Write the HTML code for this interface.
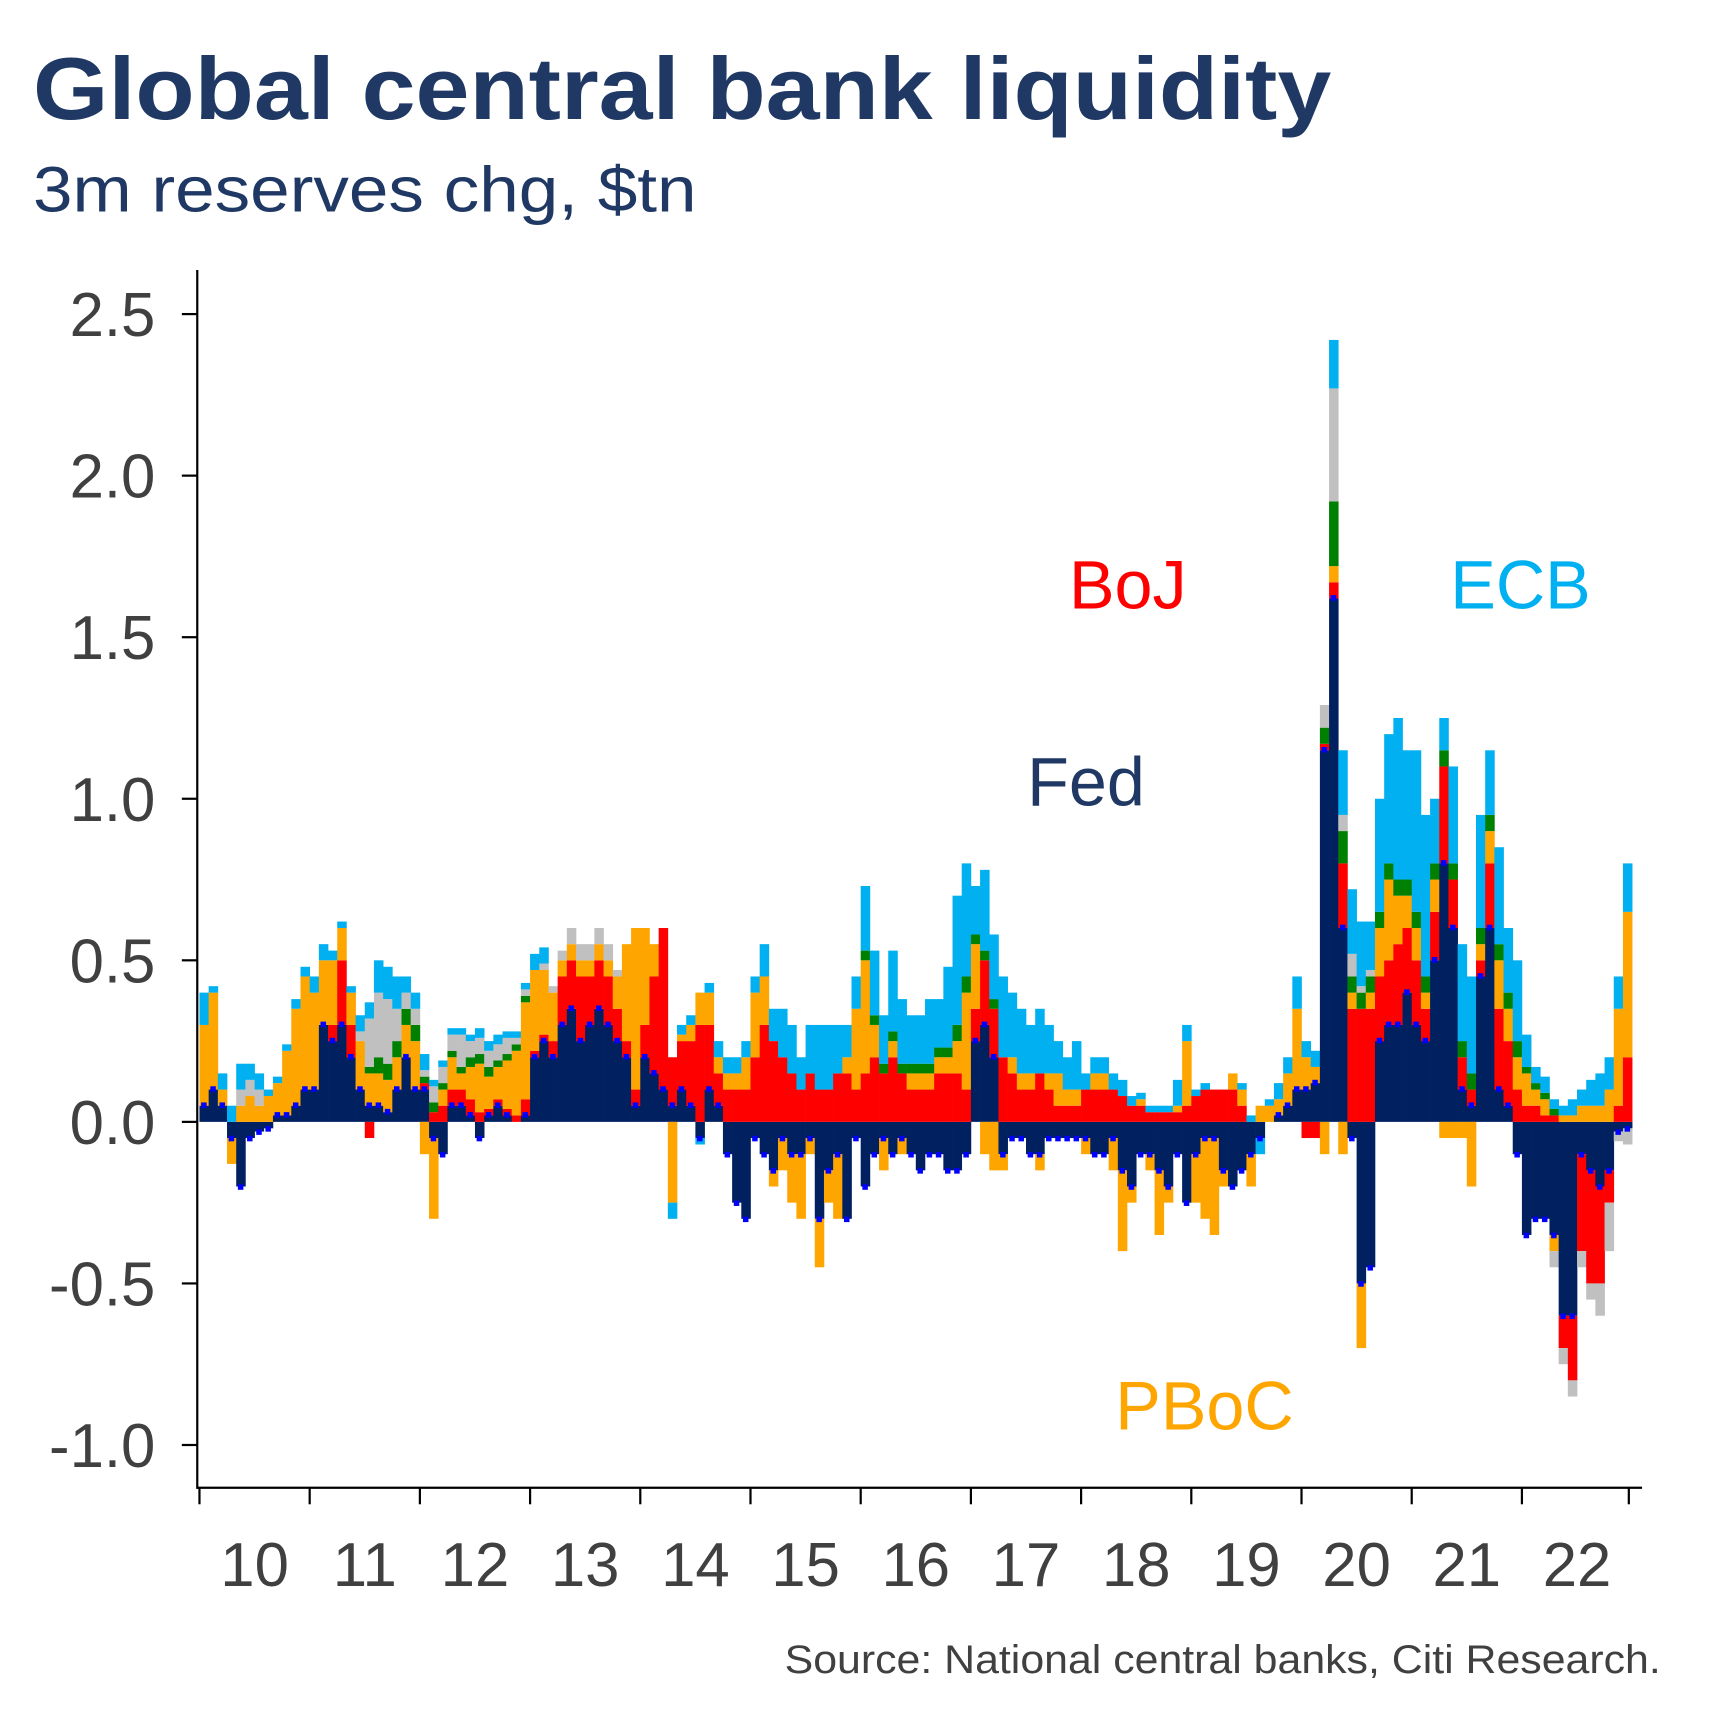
<!DOCTYPE html>
<html><head><meta charset="utf-8"><style>
html,body{margin:0;padding:0;background:#fff;}
svg{display:block;font-family:"Liberation Sans",Arial,sans-serif;}
</style></head><body>
<svg id="chart" width="1728" height="1728" viewBox="0 0 1568 1568" xmlns="http://www.w3.org/2000/svg">
<text x="30" y="108" font-size="80" font-weight="bold" fill="#1f3864" textLength="1178" lengthAdjust="spacingAndGlyphs">Global central bank liquidity</text>
<text x="30" y="192" font-size="58" fill="#1f3864" textLength="602" lengthAdjust="spacingAndGlyphs">3m reserves chg, $tn</text>
<g id="bars"></g>
<g id="axes"></g>
<text x="970" y="552" font-size="62" fill="#ff0000">BoJ</text>
<text x="1316" y="552" font-size="62" fill="#00b0f0">ECB</text>
<text x="932" y="731" font-size="62" fill="#1f3864">Fed</text>
<text x="1012" y="1297" font-size="62" fill="#ffa500">PBoC</text>
<text x="1507" y="1518" font-size="36" fill="#404040" text-anchor="end" textLength="795" lengthAdjust="spacingAndGlyphs">Source: National central banks, Citi Research.</text>
</svg>
<script>
const years=["10","11","12","13","14","15","16","17","18","19","20","21","22"];
const yTicks=[-1.0,-0.5,0.0,0.5,1.0,1.5,2.0,2.5];
const fed=[0.05,0.1,0.05,-0.05,-0.2,-0.05,-0.03,-0.02,0.02,0.02,0.05,0.1,
0.1,0.3,0.25,0.3,0.2,0.1,0.05,0.05,0.03,0.1,0.2,0.1,
0.1,-0.05,-0.1,0.05,0.05,0.02,-0.05,0.02,0.05,0.02,0,0.02,
0.2,0.25,0.2,0.3,0.35,0.25,0.3,0.35,0.3,0.25,0.2,0.05,
0.2,0.15,0.1,0.05,0.1,0.05,-0.05,0.1,0.05,-0.1,-0.25,-0.3,
-0.05,-0.1,-0.15,-0.05,-0.1,-0.1,-0.05,-0.3,-0.15,-0.1,-0.3,-0.05,
-0.2,-0.1,-0.05,-0.1,-0.05,-0.1,-0.15,-0.1,-0.1,-0.15,-0.15,-0.1,
0.25,0.3,0.2,-0.1,-0.05,-0.05,-0.1,-0.1,-0.05,-0.05,-0.05,-0.05,
-0.05,-0.1,-0.1,-0.05,-0.15,-0.2,-0.1,-0.1,-0.15,-0.2,-0.1,-0.25,
-0.1,-0.05,-0.05,-0.15,-0.2,-0.15,-0.1,-0.05,0,0.02,0.05,0.1,
0.1,0.12,1.15,1.62,0.6,-0.05,-0.5,-0.45,0.25,0.3,0.3,0.4,
0.3,0.25,0.5,0.8,0.6,0.1,0.05,0.45,0.6,0.1,0.05,-0.1,
-0.35,-0.3,-0.3,-0.35,-0.6,-0.6,-0.1,-0.15,-0.2,-0.15,-0.03,-0.02];
const boj=[0,0,0,0,0,0,0,0,0,0,0,0,
0,0,0.05,0.2,0.1,0,-0.05,0,0,0,0,0,
0.02,0.03,0.05,0.05,0.05,0.05,0.03,0.02,0.02,0.02,0.02,0.05,
0.02,0.02,0.05,0.15,0.15,0.2,0.15,0.15,0.15,0.1,0.05,0.05,
0.1,0.3,0.5,0.15,0.15,0.2,0.3,0.2,0.1,0.1,0.1,0.1,
0.2,0.3,0.25,0.2,0.15,0.1,0.15,0.1,0.1,0.15,0.15,0.1,
0.15,0.2,0.15,0.2,0.15,0.1,0.1,0.1,0.15,0.15,0.15,0.1,
0.1,0.2,0.15,0.2,0.15,0.1,0.1,0.15,0.1,0.05,0.05,0.05,
0.1,0.1,0.1,0.1,0.08,0.05,0.05,0.03,0.03,0.03,0.03,0.05,
0.08,0.1,0.1,0.1,0.1,0.05,0,0,0,0,0,0,
-0.05,-0.05,0.02,0.05,0.2,0.35,0.35,0.35,0.2,0.2,0.25,0.2,
0.2,0.1,0.15,0.3,0.15,0.1,0.05,0.05,0.2,0.25,0.2,0.1,
0.05,0.05,0.02,0.02,-0.1,-0.2,-0.3,-0.35,-0.3,-0.1,0.05,0.2];
const pboc=[0.25,0.3,0.05,-0.08,0.05,0.08,0.05,0.08,0.1,0.2,0.3,0.35,
0.3,0.2,0.2,0.1,0.1,0.15,0.1,0.1,0.1,0.1,0.1,0.15,
-0.1,-0.25,0.05,0.1,0.05,0.1,0.15,0.1,0.1,0.15,0.2,0.3,
0.25,0.2,0.15,0.05,0.05,0.05,0.05,0.05,0.05,0.1,0.3,0.5,
0.3,0.1,0,-0.25,0.02,0.05,0.1,0.1,0.05,0.05,0.05,0.1,
0.2,0.15,-0.05,-0.1,-0.15,-0.2,-0.05,-0.15,-0.1,-0.2,0.05,0.25,
0.35,0.1,-0.1,0.05,-0.05,0.05,0.05,0.05,0.05,0.05,0.1,0.3,
0.2,-0.1,-0.15,-0.05,0.05,0.05,0.05,-0.05,0.05,0.1,0.05,0.05,
-0.05,0.05,0.05,-0.1,-0.25,-0.05,0.02,-0.05,-0.2,-0.05,0.02,0.2,
-0.15,-0.25,-0.3,-0.05,0.05,0.05,-0.1,0.05,0.05,0.05,0.1,0.25,
0.1,0.05,-0.1,0.05,-0.1,0.05,-0.2,0.05,0.15,0.25,0.15,0.1,
0.1,0.05,0.1,-0.05,-0.05,-0.05,-0.2,0.05,0.1,0.15,0.1,0.1,
0.1,0.05,0.05,-0.05,0.02,0.02,0.05,0.05,0.05,0.1,0.3,0.45];
const other=[0,0,0,0,0,0,0,0,0,0,0,0,
0,0,0,0,0,0,0.02,0.05,0.05,0.05,0.05,0.05,
0.02,0.03,0.02,0.02,0.02,0.03,0.03,0.03,0.02,0.02,0.02,0.02,
0,0,0,0,0,0,0,0,0,0,0,0,
0,0,0,0,0,0,0,0,0,0,0,0,
0,0,0,0,0,0,0,0,0,0,0,0,
0.03,0.03,0.03,0.03,0.03,0.03,0.03,0.03,0.03,0.03,0.05,0.05,
0.03,0.03,0.03,0,0,0,0,0,0,0,0,0,
0,0,0,0,0,0,0,0,0,0,0,0,
0,0,0,0,0,0,0,0,0,0,0,0,
0,0,0.05,0.2,0.1,0.05,0.05,0.05,0.05,0.05,0.05,0.05,
0.05,0.05,0.05,0.05,0.05,0.05,0.05,0.05,0.05,0.05,0.05,0.05,
0.02,0.02,0.02,0.02,0,0,0,0,0,0,0,0];
const grey=[0,0,0,0,0.05,0.05,0.05,0,0,0,0,0,
0,0,0,0,0,0.03,0.15,0.2,0.2,0.1,0.05,0.05,
0.02,0.05,0.05,0.05,0.1,0.05,0.05,0.05,0.05,0.05,0.02,0.02,
0,0.02,0.02,0.03,0.05,0.05,0.05,0.05,0.05,0.02,0,0,
0,0,0,0,0,0,0,0,0,0,0,0,
0,0,0,0,0,0,0,0,0,0,0,0,
0,0,0,0,0,0,0,0,0,0,0,0,
0,0,0,0,0,0,0,0,0,0,0,0,
0,0,0,0,0,0,0,0,0,0,0,0,
0,0,0,0,0,0,0,0,0,0,0,0,
0,0,0.07,0.35,0.05,0.07,0.02,0.02,0,0,0,0,
0,0,0,0,0,0,0,0,0,0,0,0,
0,0,0,-0.05,-0.05,-0.05,-0.05,-0.05,-0.1,-0.15,-0.03,-0.05];
const ecb=[0.1,0.02,0.05,0.05,0.08,0.05,0.05,0.02,0.02,0.02,0.03,0.03,
0.05,0.05,0.03,0.02,0.02,0.05,0.05,0.1,0.1,0.1,0.05,0.05,
0.05,0.02,0.02,0.02,0.02,0.02,0.03,0.03,0.03,0.02,0.02,0.02,
0.05,0.05,0,0,0,0,0,0,0,0,0,0,
0,0,0,-0.05,0.03,0.03,-0.02,0.03,0.05,0.05,0.05,0.05,
0.05,0.1,0.1,0.15,0.15,0.1,0.15,0.2,0.2,0.15,0.1,0.1,
0.2,0.2,0.15,0.25,0.2,0.15,0.15,0.2,0.15,0.25,0.4,0.35,
0.15,0.25,0.2,0.25,0.2,0.2,0.15,0.2,0.15,0.1,0.1,0.15,
0.05,0.05,0.05,0.05,0.05,0.03,0.02,0.02,0.02,0.02,0.08,0.05,
0.02,0.02,0,0,0,0.02,0.02,-0.05,0.02,0.05,0.05,0.1,
0.05,0.05,0,0.15,0.2,0.2,0.2,0.15,0.35,0.4,0.5,0.4,
0.5,0.5,0.2,0.1,0.3,0.3,0.3,0.35,0.2,0.3,0.2,0.25,
0.1,0.05,0.05,0.03,0.03,0.05,0.05,0.08,0.1,0.1,0.1,0.15];

const X0=181, YW=100, Y0=1018, PPU=293.2;
const ns="http://www.w3.org/2000/svg";
function xS(i){return X0+i*YW/12;}
function yS(v){return Y0-v*PPU;}
const bars=document.getElementById('bars');
const series=[[fed,'#002060','fed'],[boj,'#ff0000','boj'],[pboc,'#ffa500','pboc'],[other,'#008000','other'],[grey,'#c0c0c0','grey'],[ecb,'#00b0f0','ecb']];
for(let i=0;i<fed.length;i++){
  let pos=0,neg=0;
  for(const [arr,col,nm] of series){
    const v=arr[i]; if(!v) continue;
    let a,b;
    if(v>0){a=pos;b=pos+v;pos=b;}else{a=neg;b=neg+v;neg=b;}
    const r=document.createElementNS(ns,'rect');
    
    
    r.setAttribute('x',xS(i));r.setAttribute('width',YW/12+0.3);
    r.setAttribute('y',Math.min(yS(a),yS(b)));r.setAttribute('height',Math.abs(yS(a)-yS(b)));
    r.setAttribute('fill',col);bars.appendChild(r);
  }
  const fv=fed[i];
  if(fv){
    const m=document.createElementNS(ns,'rect');
    
    
    m.setAttribute('x',xS(i)+1.5);m.setAttribute('width',5);
    m.setAttribute('y',fv>0?yS(fv)-3:yS(fv)-2);m.setAttribute('height',5);
    m.setAttribute('fill','#0000ff');bars.appendChild(m);
  }
}
const ax=document.getElementById('axes');
function line(x1,y1,x2,y2,name){const l=document.createElementNS(ns,'line');


l.setAttribute('x1',x1);l.setAttribute('y1',y1);l.setAttribute('x2',x2);l.setAttribute('y2',y2);
l.setAttribute('stroke','#000');l.setAttribute('stroke-width','2');ax.appendChild(l);}
line(179,245,179,1351,'y-axis-line');
line(179,1350,1490,1350,'x-axis-line');
for(const t of yTicks){
  line(165,yS(t),179,yS(t),'y-tick');
  const tx=document.createElementNS(ns,'text');
  
  
  tx.setAttribute('x',141);tx.setAttribute('y',yS(t)+20);tx.setAttribute('text-anchor','end');
  tx.setAttribute('font-size','56');tx.setAttribute('fill','#404040');
  tx.textContent=t.toFixed(1);ax.appendChild(tx);
}
for(let k=0;k<=years.length;k++){
  const x=X0+k*YW-(k===years.length?3:0);
  line(x,1350,x,1365,'x-tick');
  if(k<years.length){
    const tx=document.createElementNS(ns,'text');
    
    
    tx.setAttribute('x',X0+k*YW+YW/2);tx.setAttribute('y',1439);tx.setAttribute('text-anchor','middle');
    tx.setAttribute('font-size','56');tx.setAttribute('fill','#404040');
    tx.textContent=years[k];ax.appendChild(tx);
  }
}
</script>
</body></html>
